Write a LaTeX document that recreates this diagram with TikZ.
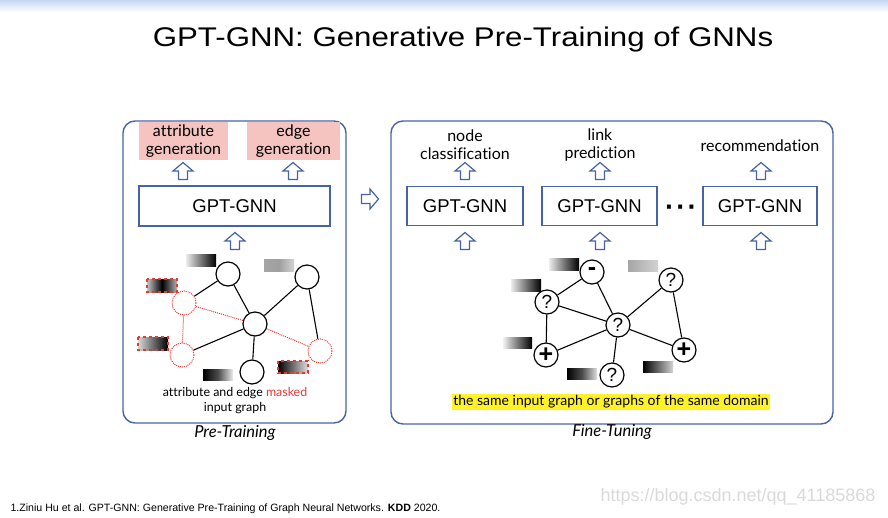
\documentclass[tikz,border=0pt]{standalone}
\usepackage{fontspec}
\setmainfont{Lato}[Ligatures={NoCommon}]
\newfontfamily\arialfont{Liberation Sans}
\usetikzlibrary{positioning}

\definecolor{panelblue}{RGB}{70,98,168}
\definecolor{genpink}{RGB}{246,196,192}
\definecolor{maskred}{RGB}{232,58,52}
\definecolor{hlyellow}{RGB}{255,243,40}
\definecolor{stripblue}{RGB}{196,216,244}

\tikzset{
  panel/.style={draw=panelblue, line width=1.4pt, rounded corners=12pt, inner sep=0pt},
  gnnbox/.style={draw=panelblue, line width=1.3pt, inner sep=0pt, font=\arialfont\fontsize{18.5}{20}\selectfont},
  gennode/.style={fill=genpink, align=center, inner sep=0pt, font=\fontsize{16}{18}\selectfont},
  task/.style={align=center, inner sep=0pt, font=\fontsize{16}{18}\selectfont},
  hollow/.style={draw=panelblue, line width=1.2pt, fill=white, line join=miter},
  gnode/.style={circle, draw, line width=1.2pt, minimum size=24pt, inner sep=0pt, fill=white, font=\arialfont\fontsize{19}{19}\selectfont},
  signtext/.style={font=\arialfont\bfseries\fontsize{25}{25}\selectfont},
  mnode/.style={circle, draw=maskred, densely dotted, line width=1pt, minimum size=24pt, inner sep=0pt},
  edge/.style={line width=1.1pt},
  medge/.style={draw=maskred, densely dotted, line width=1pt},
  maskbar/.style={draw=maskred, dashed, line width=1.2pt},
  caption/.style={font=\itshape\fontsize{16.5}{18}\selectfont}
}

\begin{document}
\begin{tikzpicture}[x=1pt, y=-1pt]
    \useasboundingbox (0,0) rectangle (888,517);
    \shade[top color=stripblue, bottom color=white] (0,0) rectangle (888,12);

    % Title
    \node (title) at (463,40) {\scalebox{1.157}[1]{\arialfont\fontsize{27}{30}\selectfont GPT-GNN: Generative Pre-Training of GNNs}};

    % Pre-training panel
    \node (ptpanel) [panel, minimum width=223pt, minimum height=302pt] at (234.5,272) {};
    \node (ptcap) [caption] at (235,433) {Pre-Training};
    \node (attrgen) [gennode, minimum width=89pt, minimum height=38pt] at (183.5,141) {attribute\\generation};
    \node (edgegen) [gennode, minimum width=93pt, minimum height=38pt] at (293.5,141) {edge\\generation};
    \node (ptgnn) [gnnbox, minimum width=191pt, minimum height=40pt] at (234.5,206) {GPT-GNN};

    % Input graph with masks
    \node (ltop) [gnode] at (228,274) {};
    \node (lrt) [gnode] at (307,277) {};
    \node (lmid) [gnode] at (255,324) {};
    \node (lbot) [gnode] at (252,372) {};
    \node (mlt) [mnode] at (184,303) {};
    \node (mlb) [mnode] at (182,355) {};
    \node (mr) [mnode] at (320,351) {};
    \draw[edge] (ltop) -- (lmid) (lrt) -- (lmid) (lmid) -- (lbot) (lmid) -- (mlb) (mlt) -- (ltop) (lrt) -- (mr);
    \draw[medge] (mlt) -- (lmid) (mlt) -- (mlb) (lmid) -- (mr);

    \shade[left color=gray!15, right color=black] (186,254) rectangle (216,266);
    \shade[left color=gray!70, right color=gray!35, middle color=gray!75] (264,259) rectangle (294,271);
    \shadedraw[left color=gray!45, right color=gray!60, middle color=black, maskbar] (147,279) rectangle (177,292);
    \shadedraw[left color=gray!30, right color=black, maskbar] (138,337) rectangle (168,350);
    \shade[left color=black, right color=gray!15, middle color=black!70] (203,369) rectangle (233,380);
    \shadedraw[left color=black, right color=gray!25, maskbar] (278,361) rectangle (308,373);

    \node (ptinput) [align=center, font=\fontsize{12.4}{15}\selectfont] at (235,401) {attribute and edge \textcolor{maskred}{masked}\\input graph};

    % Fine-tuning panel
    \node (ftpanel) [panel, minimum width=442pt, minimum height=303pt] at (612,272.5) {};
    \node (ftcap) [caption] at (612,432) {Fine-Tuning};
    \node (nodecls) [task] at (465,145) {node\\classification};
    \node (linkpred) [task] at (600,145) {link\\prediction};
    \node (recom) [task] at (760,146) {recommendation};
    \node (ftgnn1) [gnnbox, minimum width=116pt, minimum height=39pt] at (465,206) {GPT-GNN};
    \node (ftgnn2) [gnnbox, minimum width=115pt, minimum height=39pt] at (599.5,206) {GPT-GNN};
    \node (ftgnn3) [gnnbox, minimum width=114pt, minimum height=39pt] at (760,206) {GPT-GNN};
    \node (dots) [font=\arialfont\bfseries\fontsize{28}{28}\selectfont] at (681,211) {·\kern2pt·\kern2pt·};

    % Downstream graph
    \node (rminus) [gnode, signtext] at (592,272) {-};
    \node (rq1) [gnode] at (547,302) {?};
    \node (rq0) [gnode] at (618,325) {?};
    \node (rplus1) [gnode, signtext] at (546,355) {+};
    \node (rq2) [gnode] at (612,375) {?};
    \node (rq3) [gnode] at (671,280) {?};
    \node (rplus2) [gnode, signtext] at (684,350) {+};
    \draw[edge] (rminus) -- (rq1) (rminus) -- (rq0) (rq1) -- (rq0) (rq1) -- (rplus1) (rplus1) -- (rq0)
        (rq0) -- (rq2) (rq0) -- (rq3) (rq0) -- (rplus2) (rq3) -- (rplus2);

    \shade[left color=gray!15, right color=black] (549,258) rectangle (579,270);
    \shade[left color=gray!15, right color=black] (511,279) rectangle (541,291);
    \shade[left color=gray!10, right color=black] (503,337) rectangle (532,348);
    \shade[left color=black, right color=gray!25, middle color=black!70] (567,368) rectangle (597,379);
    \shade[left color=gray!70, right color=gray!35] (628,260) rectangle (658,271);
    \shade[left color=black, right color=gray!35] (643,361) rectangle (673,372);

    \node (samedom) [fill=hlyellow, inner sep=1.5pt, font=\fontsize{14}{16}\selectfont] at (611,402) {the same input graph or graphs of the same domain};

    % Hollow arrows
    \foreach \ax/\ay in {183/171, 293/171, 235/241, 465/171, 600/171, 761/171, 465/241, 600/241, 761/241}
        \draw[hollow, shift={(\ax,\ay)}] (-4.5,8.5) -- (-4.5,0) -- (-10,0) -- (0,-8.5) -- (10,0) -- (4.5,0) -- (4.5,8.5) -- cycle;
    \draw[hollow, shift={(370,199)}] (-8.5,-4.5) -- (0,-4.5) -- (0,-10) -- (8.5,0) -- (0,10) -- (0,4.5) -- (-8.5,4.5) -- cycle;

    % Reference and watermark
    \node (refnote) [anchor=west, font=\arialfont\fontsize{10.6}{12}\selectfont] at (7,509) {1.Ziniu Hu et al. GPT-GNN: Generative Pre-Training of Graph Neural Networks. \textbf{KDD} 2020.};
    \node (wmark) [anchor=east, text=gray!30, font=\arialfont\fontsize{18}{20}\selectfont] at (879,497) {https://blog.csdn.net/qq\_41185868};
\end{tikzpicture}
\end{document}
